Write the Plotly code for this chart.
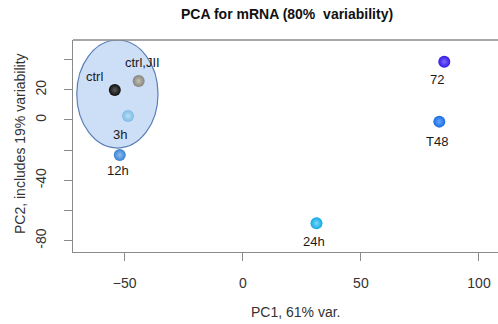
import plotly.graph_objects as go

# PCA scores for each sample
samples = ["ctrl", "ctrl,JII", "3h", "12h", "72", "T48", "24h"]
pc1 = [-54.2, -44.1, -48.6, -52.1, 85.3, 83.2, 31.2]
pc2 = [19.9, 25.8, 2.7, -23.2, 38.6, -1.1, -68.5]

# sphere-like colours: rim colour and highlight colour
rim_colors = ["#0d0d0d", "#85837a", "#7dbbe4", "#3a80d2", "#3418e4", "#176ce4", "#12a8e2"]
hi_colors = ["#5a5a5a", "#c4c2b8", "#b8def5", "#8dbcef", "#7a6aff", "#66a4fa", "#7ad8fa"]

# label offsets in pixels relative to each point
label_dx = [-20, 4, -8, -2, -7, -2, -3]
label_dy = [13, 19, -19, -16, -18, -20, -18]

x_ticks = [-50, 0, 50, 100]
y_ticks = [-80, -60, -40, -20, 0, 20, 40]
y_ticktext = ["-80", "", "-40", "", "0", "20", ""]

x_range = [-71.9, 108.05]
y_range = [-87.5, 53.0]

# grouping ellipse around the control / early samples
ellipse_x = [-70.3, -35.9]
ellipse_y = [-18.6, 53.0]

font_family = "Liberation Sans, Arial, sans-serif"
frame_color = "#8a8a8a"

fig = go.Figure()

fig.add_shape(
    type="circle", xref="x", yref="y",
    x0=ellipse_x[0], x1=ellipse_x[1], y0=ellipse_y[0], y1=ellipse_y[1],
    fillcolor="rgba(186,209,244,0.72)",
    line=dict(color="#5b7fb6", width=1.2),
    layer="below",
)

# top edge of the plot frame
fig.add_shape(
    type="line", xref="paper", yref="paper", x0=0, x1=1, y0=1, y1=1,
    line=dict(color=frame_color, width=1.3),
)

for i, name in enumerate(samples):
    fig.add_trace(go.Scatter(
        x=[pc1[i]], y=[pc2[i]], mode="markers", name=name,
        marker=dict(size=12, color=rim_colors[i],
                    gradient=dict(type="radial", color=hi_colors[i]),
                    line=dict(width=0)),
        hoverinfo="text", hovertext=name, cliponaxis=False,
    ))
    fig.add_annotation(
        x=pc1[i], y=pc2[i], text=name, showarrow=False,
        xshift=label_dx[i], yshift=label_dy[i],
        font=dict(family=font_family, size=13, color="#1a1a1a"),
    )

axis_common = dict(
    showgrid=False, zeroline=False,
    showline=True, linecolor=frame_color, linewidth=1.3, mirror=False,
    ticks="outside", ticklen=8, tickcolor=frame_color, tickwidth=1,
    tickfont=dict(family=font_family, size=14, color="#333333"),
)

fig.update_xaxes(range=x_range, tickvals=x_ticks, ticklabelstandoff=10, **axis_common)
fig.update_yaxes(range=y_range, tickvals=y_ticks, ticktext=y_ticktext,
                 tickangle=-90, ticklabelstandoff=12, **axis_common)

fig.add_annotation(
    text="<b>PCA for mRNA (80%  variability)</b>", xref="paper", yref="paper",
    x=(287 - 73) / (498 - 73), y=1.0, yshift=26, xanchor="center", yanchor="middle",
    showarrow=False, font=dict(family=font_family, size=14, color="#111111"),
)
fig.add_annotation(
    text="PC1, 61% var.", xref="paper", yref="paper",
    x=(296 - 73) / (498 - 73), y=0.0, yshift=-60, xanchor="center", yanchor="middle",
    showarrow=False, font=dict(family=font_family, size=14, color="#333333"),
)
fig.add_annotation(
    text="PC2, includes 19% variability", xref="paper", yref="paper",
    x=0.0, xshift=-53, y=(252 - 144) / (252 - 40), textangle=-90,
    xanchor="center", yanchor="middle",
    showarrow=False, font=dict(family=font_family, size=14, color="#333333"),
)

fig.update_layout(
    width=498, height=324,
    margin=dict(l=73, r=0, t=40, b=72),
    paper_bgcolor="white", plot_bgcolor="white",
    showlegend=False,
)

fig.write_html("out.html")
